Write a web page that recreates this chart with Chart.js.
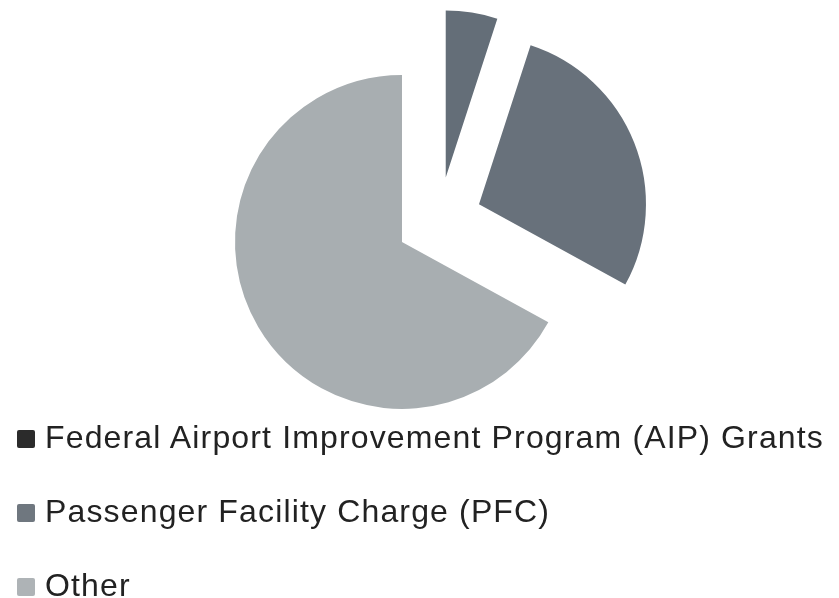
<!DOCTYPE html>
<html>
<head>
<meta charset="utf-8">
<script src="https://cdn.jsdelivr.net/npm/chart.js@4/dist/chart.umd.min.js"></script>
<style>
  body { margin: 0; background: #fff; }
  .wrap { position: relative; width: 839px; height: 598px; }
  #funding-chart { position: absolute; left: 0; top: 0; }
  .legend {
    position: absolute; left: 17px; top: 400px; margin: 0; padding: 0;
    list-style: none; font-family: "Liberation Sans", Arial, sans-serif;
    font-size: 32px; line-height: 74px; letter-spacing: 1.15px;
    color: #222; white-space: nowrap;
  }
  .legend span.box {
    display: inline-block; width: 18px; height: 18px; margin-right: 10px;
    vertical-align: baseline; border-radius: 2px;
  }
</style>
</head>
<body>
<div class="wrap">
  <canvas id="funding-chart" width="839" height="598"></canvas>
  <ul class="legend" id="legend"></ul>
</div>
<script>
// ------------------------
// DATA
// ------------------------

const sources = ['Federal Airport Improvement Program (AIP) Grants', 'Passenger Facility Charge (PFC)', 'Other']
const shares = [5, 28, 67]
const sliceColors = ['#646e78', '#68717b', '#a8aeb1']
const swatchColors = ['#2b2b2b', '#6f777f', '#aeb3b6']

// how far every slice is pulled out from the centre (px)
const explode = 43

// ------------------------
// EXPLODED PIE
// ------------------------

// move each arc out along its own mid angle, radius stays the same
const explodePlugin = {
  id: 'explode',
  beforeDatasetsDraw(chart) {
    const area = chart.chartArea
    const cx = (area.left + area.right) / 2
    const cy = (area.top + area.bottom) / 2
    chart.getDatasetMeta(0).data.forEach(arc => {
      const mid = (arc.startAngle + arc.endAngle) / 2
      arc.x = cx + Math.cos(mid) * explode
      arc.y = cy + Math.sin(mid) * explode
    })
  }
}

const fundingCanvas = document.querySelector('#funding-chart')

let fundingChart = new Chart(fundingCanvas, {
  type: 'pie',
  data: {
    labels: sources,
    datasets: [{
      data: shares,
      backgroundColor: sliceColors,
      borderWidth: 0
    }]
  },
  options: {
    responsive: false,
    animation: false,
    layout: {
      padding: { top: 53, bottom: 211, left: 39, right: 0 }
    },
    plugins: {
      legend: { display: false },
      tooltip: { enabled: false }
    }
  },
  plugins: [explodePlugin]
})

// ------------------------
// LEGEND
// ------------------------

const legend = document.querySelector('#legend')
sources.forEach((label, i) => {
  const li = document.createElement('li')
  li.innerHTML = `<span class="box" style="background:${swatchColors[i]}"></span>${label}`
  legend.appendChild(li)
})
</script>
</body>
</html>
